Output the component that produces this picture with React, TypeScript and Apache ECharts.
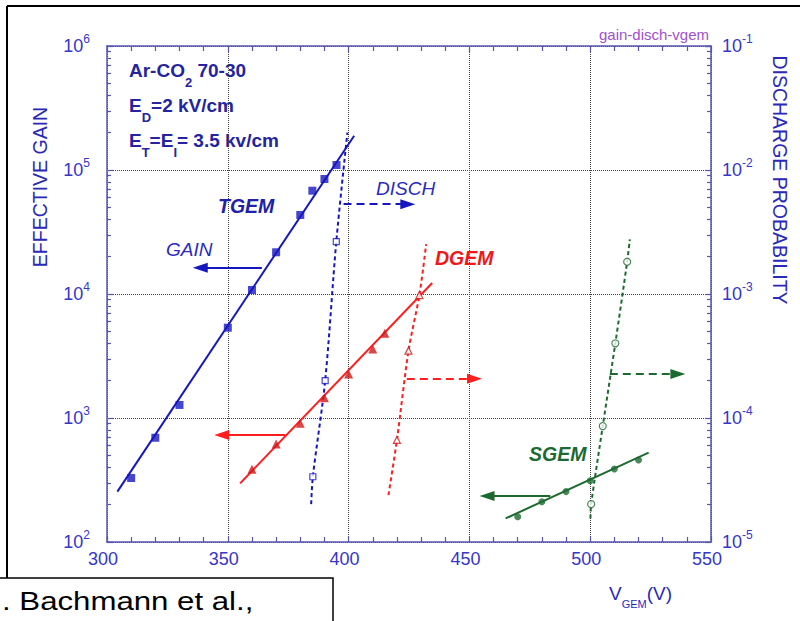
import React, { useEffect, useRef } from "react";
import * as echarts from "echarts";

// ---------- axes ----------
const vMin = 300;
const vMax = 550;
const vStep = 50;
const gainMin = 1e2;
const gainMax = 1e6;
const dischMin = 1e-5;
const dischMax = 1e-1;

// ---------- TGEM ----------
const tgemGainV = [310, 320, 330, 350, 360, 370, 380, 385, 390, 395];
const tgemGain = [328, 693, 1274, 5350, 10770, 21700, 43400, 68100, 84600, 109700];
const tgemFit = [[304.3, 255], [402.3, 189000]];
const tgemDischV = [385.2, 390.3, 394.9];
const tgemDisch = [3.36e-5, 2.0e-4, 2.64e-3];
const tgemDischCurve = [[384.5, 2.02e-5], [385.2, 3.36e-5], [390.3, 2.0e-4], [394.9, 2.64e-3], [399.5, 2.0e-2]];
const tgemGainArrow = [[364.1, 16300], [338.6, 16300]];
const tgemDischArrow = [[397.9, 5.3e-3], [424.5, 5.3e-3]];

// ---------- DGEM ----------
const dgemGainV = [360, 370, 380, 390, 400, 410, 415];
const dgemGain = [386, 617, 906, 1458, 2265, 3600, 4820];
const dgemFit = [[355.1, 297], [434.6, 12270]];
const dgemDischV = [420.0, 424.8, 429.3];
const dgemDisch = [6.65e-5, 3.49e-4, 9.8e-4];
const dgemDischCurve = [[416.5, 2.39e-5], [420.0, 6.65e-5], [424.8, 3.49e-4], [429.3, 9.8e-4], [432.1, 2.52e-3]];
const dgemGainArrow = [[373.7, 729], [347.5, 729]];
const dgemDischArrow = [[424.1, 2.07e-4], [452.1, 2.07e-4]];

// ---------- SGEM ----------
const sgemGainV = [470, 480, 490, 500, 510, 520];
const sgemGain = [160, 211, 255, 312, 388, 459];
const sgemFit = [[465.0, 155], [524.2, 525]];
const sgemDischV = [500.4, 505.2, 510.4, 515.3];
const sgemDisch = [2.02e-5, 8.6e-5, 4.0e-4, 1.82e-3];
const sgemDischCurve = [[500.1, 1.55e-5], [500.4, 2.02e-5], [505.2, 8.6e-5], [510.4, 4.0e-4], [515.3, 1.82e-3], [516.4, 2.76e-3]];
const sgemGainArrow = [[483.5, 235], [457.3, 235]];
const sgemDischArrow = [[508.1, 2.26e-4], [536.3, 2.26e-4]];

const FONT = "'Liberation Sans', Arial, Helvetica, sans-serif";
const AXIS = "#5656ae";
const TICKLBL = "#3636c8";
const NAMEBLUE = "#2a2ab8";
const BLUE = "#1616c0";
const RED = "#ff1e1e";
const DRED = "#d01818";
const GREEN = "#1d6a30";

const pairs = (xs: number[], ys: number[]) => xs.map((x, i) => [x, ys[i]]);

const fitLine = (data: number[][], color: string) => ({
  type: "line",
  xAxisIndex: 0,
  yAxisIndex: 0,
  data,
  symbol: "none",
  silent: true,
  lineStyle: { color, width: 2 },
  z: 3,
});

const dischCurve = (data: number[][], color: string) => ({
  type: "line",
  xAxisIndex: 0,
  yAxisIndex: 1,
  data,
  symbol: "none",
  smooth: 0.3,
  silent: true,
  lineStyle: { color, width: 2, type: [4, 3] },
  z: 3,
});

const filled = (data: number[][], symbol: string, size: number, color: string) => ({
  type: "scatter",
  xAxisIndex: 0,
  yAxisIndex: 0,
  data,
  symbol,
  symbolSize: size,
  silent: true,
  itemStyle: { color },
  z: 5,
});

const open = (data: number[][], symbol: string, size: number, color: string) => ({
  type: "scatter",
  xAxisIndex: 0,
  yAxisIndex: 1,
  data,
  symbol,
  symbolSize: size,
  silent: true,
  itemStyle: { color: "#ffffff", borderColor: color, borderWidth: 1.2 },
  z: 5,
});

const arrow = (coords: number[][], color: string, dashed: boolean, yAxisIndex: number) => ({
  type: "line",
  xAxisIndex: 0,
  yAxisIndex,
  data: [],
  silent: true,
  markLine: {
    silent: true,
    symbol: ["none", "triangle"],
    symbolSize: [10, 15],
    label: { show: false },
    emphasis: { disabled: true },
    lineStyle: { color, width: 2, type: dashed ? [8, 5] : "solid" },
    data: [[{ coord: coords[0] }, { coord: coords[1] }]],
  },
  z: 4,
});

const expLabel = (v: number) => `{b|10}{s|${Math.round(Math.log10(v))}}`;

const txt = (x: number, y: number, text: string, font: string, fill: string, extra: any = {}) => ({
  type: "text",
  x,
  y,
  silent: true,
  z: 20,
  ...extra,
  style: {
    text,
    font,
    fill,
    textAlign: "left",
    align: "left",
    textVerticalAlign: "middle",
    verticalAlign: "middle",
    ...(extra.style || {}),
  },
});

export default function App() {
  const ref = useRef<HTMLDivElement>(null);
  useEffect(() => {
    const chart = echarts.init(ref.current!, null, { renderer: "svg" });
    const xAxisBase = {
      type: "value",
      min: vMin,
      max: vMax,
      interval: vStep,
      axisLine: { show: true, lineStyle: { color: AXIS, width: 1.5 } },
      axisTick: { show: true, inside: true, length: 6, lineStyle: { color: AXIS, width: 1.2 } },
      minorTick: { show: true, splitNumber: 5, length: 5, lineStyle: { color: AXIS, width: 1.2 } },
    };
    const richLabel = (margin: number) => ({
      margin,
      formatter: expLabel,
      rich: {
        b: { fontSize: 18, color: TICKLBL, fontFamily: FONT, lineHeight: 26 },
        s: { fontSize: 12, color: TICKLBL, fontFamily: FONT, verticalAlign: "top", lineHeight: 12 },
      },
    });
    const yAxisBase = {
      type: "log",
      logBase: 10,
      axisLine: { show: true, lineStyle: { color: AXIS, width: 1.5 } },
      axisTick: { show: true, inside: true, length: 6, lineStyle: { color: AXIS, width: 1.2 } },
      minorTick: { show: true, splitNumber: 9, length: 4, lineStyle: { color: AXIS, width: 1.2 } },
    };
    const option: any = {
      animation: false,
      backgroundColor: "#ffffff",
      grid: { left: 107, right: 89, top: 46, bottom: 79, containLabel: false },
      xAxis: [
        {
          ...xAxisBase,
          position: "bottom",
          axisLabel: {
            fontSize: 18,
            color: TICKLBL,
            fontFamily: FONT,
            margin: 8,
            padding: [0, 8, 0, 0],
          },
          splitLine: { show: true, lineStyle: { color: "#444", width: 1, type: [1, 1] } },
        },
        {
          ...xAxisBase,
          position: "top",
          axisLabel: { show: false },
          splitLine: { show: false },
        },
      ],
      yAxis: [
        {
          ...yAxisBase,
          min: gainMin,
          max: gainMax,
          position: "left",
          axisLabel: richLabel(17),
          splitLine: { show: true, lineStyle: { color: "#444", width: 1, type: [1, 1] } },
        },
        {
          ...yAxisBase,
          min: dischMin,
          max: dischMax,
          position: "right",
          axisLabel: richLabel(11),
          splitLine: { show: false },
        },
      ],
      series: [
        fitLine(tgemFit, BLUE),
        dischCurve(tgemDischCurve, BLUE),
        filled(pairs(tgemGainV, tgemGain), "rect", 8, BLUE),
        open(pairs(tgemDischV, tgemDisch), "rect", 6, BLUE),
        arrow(tgemGainArrow, BLUE, false, 0),
        arrow(tgemDischArrow, BLUE, true, 1),

        fitLine(dgemFit, RED),
        dischCurve(dgemDischCurve, RED),
        filled(pairs(dgemGainV, dgemGain), "triangle", 9, DRED),
        open(pairs(dgemDischV, dgemDisch), "triangle", 7, DRED),
        arrow(dgemGainArrow, RED, false, 0),
        arrow(dgemDischArrow, RED, true, 1),

        fitLine(sgemFit, GREEN),
        dischCurve(sgemDischCurve, GREEN),
        filled(pairs(sgemGainV, sgemGain), "circle", 7, GREEN),
        open(pairs(sgemDischV, sgemDisch), "circle", 7, GREEN),
        arrow(sgemGainArrow, GREEN, false, 0),
        arrow(sgemDischArrow, GREEN, true, 1),
      ],
      graphic: [
        // outer frame
        { type: "line", silent: true, z: 1, shape: { x1: 7, y1: 6, x2: 800, y2: 6 }, style: { stroke: "#000", lineWidth: 2 } },
        { type: "line", silent: true, z: 1, shape: { x1: 7, y1: 6, x2: 7, y2: 578 }, style: { stroke: "#000", lineWidth: 2 } },
        { type: "rect", silent: true, z: 30, shape: { x: -5, y: 578, width: 338, height: 60 }, style: { fill: "#fff", stroke: "#000", lineWidth: 1.5 } },
        txt(2, 601, ". Bachmann et al.,", `26px ${FONT}`, "#000", { scaleX: 1.2, z: 31 }),
        // file tag
        txt(599, 34, "gain-disch-vgem", `15px ${FONT}`, "#a050d0"),
        // axis names
        {
          type: "text",
          x: 40,
          y: 187,
          rotation: Math.PI / 2,
          silent: true,
          style: { text: "EFFECTIVE GAIN", font: `19.5px ${FONT}`, fill: NAMEBLUE, textAlign: "center", align: "center", textVerticalAlign: "middle", verticalAlign: "middle" },
        },
        {
          type: "text",
          x: 780,
          y: 180,
          rotation: -Math.PI / 2,
          silent: true,
          style: { text: "DISCHARGE PROBABILITY", font: `19.5px ${FONT}`, fill: NAMEBLUE, textAlign: "center", align: "center", textVerticalAlign: "middle", verticalAlign: "middle" },
        },
        {
          type: "text",
          x: 609,
          y: 578,
          silent: true,
          style: {
            text: "{b|V}{s|GEM}{b|(V)}",
            fill: NAMEBLUE,
            textAlign: "left",
            align: "left",
            textVerticalAlign: "top",
            verticalAlign: "top",
            rich: {
              b: { fontSize: 19, fontFamily: FONT, fill: NAMEBLUE, lineHeight: 30 },
              s: { fontSize: 11, fontFamily: FONT, fill: NAMEBLUE, verticalAlign: "bottom", height: 8 },
            },
          },
        },
        // conditions block
        {
          type: "text",
          x: 129,
          y: 52.5,
          silent: true,
          style: {
            text: "{b|Ar-CO}{s|2}{b| 70-30}\n{b|E}{s|D}{b|=2 kV/cm}\n{b|E}{s|T}{b|=E}{s|I}{b|= 3.5 kv/cm}",
            fill: "#2424a0",
            textAlign: "left",
            align: "left",
            textVerticalAlign: "top",
            verticalAlign: "top",
            rich: {
              b: { fontSize: 19, fontWeight: "bold", fontFamily: FONT, fill: "#2424a0", lineHeight: 35 },
              s: { fontSize: 13, fontWeight: "bold", fontFamily: FONT, fill: "#2424a0", verticalAlign: "bottom", height: 10 },
            },
          },
        },
        // curve labels
        txt(218, 206, "TGEM", `italic bold 19.5px ${FONT}`, "#2020a8"),
        txt(166, 249, "GAIN", `italic 19px ${FONT}`, "#2a2ac0"),
        txt(376, 188, "DISCH", `italic 19px ${FONT}`, "#2a2ac0"),
        txt(435, 258, "DGEM", `italic bold 19.5px ${FONT}`, "#f01818"),
        txt(529, 454, "SGEM", `italic bold 19.5px ${FONT}`, GREEN),
      ],
    };
    chart.setOption(option);
    return () => chart.dispose();
  }, []);
  return (
    <div
      ref={ref}
      style={{ position: "fixed", left: 0, top: 0, width: 800, height: 621, background: "#fff" }}
    />
  );
}
